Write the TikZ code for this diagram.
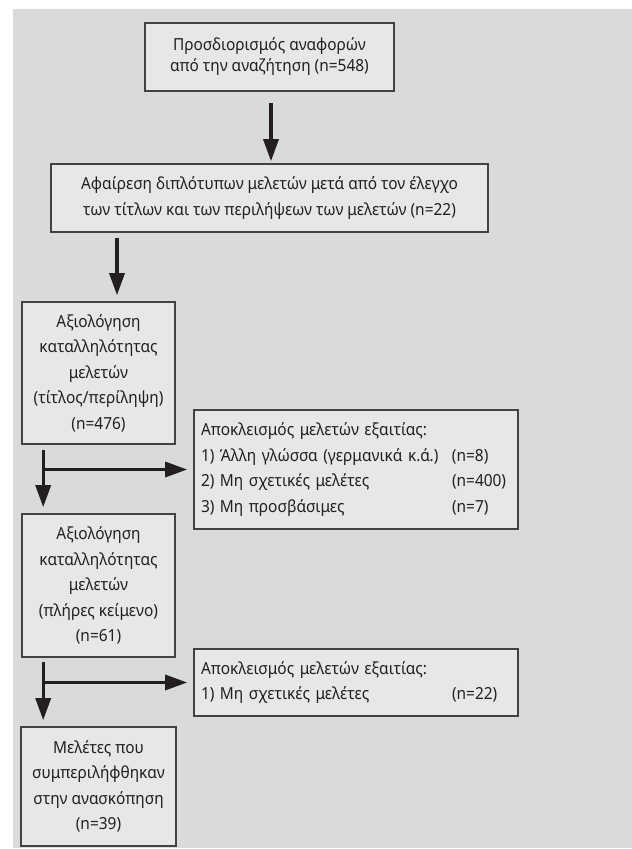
\documentclass[tikz,border=0pt]{standalone}
\usepackage{fontspec}
\setmainfont{Noto Sans}[FakeStretch=0.93]
\usetikzlibrary{arrows.meta,positioning,calc}
\definecolor{panelgray}{HTML}{D9DADC}
\definecolor{boxgray}{HTML}{E6E7E8}
\definecolor{ink}{HTML}{231F20}
\tikzset{
  stage/.style = { draw=ink!85, line width=1.6pt, fill=boxgray, align=center,
    inner sep=0pt, text=ink, font=\fontsize{16.6}{25.5}\selectfont },
  exclbox/.style = { stage, align=left, inner xsep=7pt, text width=310pt },
  flow/.style = { draw=ink, line width=3.3pt, -{Triangle[length=22pt,width=15pt]} }
}
\newcommand{\reason}[2]{\makebox[251pt][l]{#1}#2}

\begin{document}
\begin{tikzpicture}[x=1pt,y=-1pt]
    \useasboundingbox (0,0) rectangle (632,849);
    \fill[white] (0,0) rectangle (632,849);
    \fill[panelgray] (13,9) rectangle (632,848);
    % main column
    \node[stage, minimum width=249pt, minimum height=68pt,
      font=\fontsize{16.6}{21}\selectfont] (ident) at (269.5,57)
      {Προσδιορισμός αναφορών\\από την αναζήτηση (n=548)};
    \node[stage, minimum width=437pt, minimum height=68pt] (dupl) at (269.5,198)
      {Αφαίρεση διπλότυπων μελετών μετά από τον έλεγχο\\των τίτλων και των περιλήψεων των μελετών (n=22)};
    \node[stage, minimum width=153pt, minimum height=142pt] (screen) at (98.5,373)
      {Αξιολόγηση\\καταλληλότητας\\μελετών\\(τίτλος/περίληψη)\\(n=476)};
    \node[stage, minimum width=153pt, minimum height=143pt] (full) at (98.5,585.5)
      {Αξιολόγηση\\καταλληλότητας\\μελετών\\(πλήρες κείμενο)\\(n=61)};
    \node[stage, minimum width=155pt, minimum height=119pt] (incl) at (98.5,786.5)
      {Μελέτες που\\συμπεριλήφθηκαν\\στην ανασκόπηση\\(n=39)};
    % exclusions
    \node[exclbox, minimum height=119pt] (exclA) at (356,469.5)
      {Αποκλεισμός μελετών εξαιτίας:\\
       \reason{1) Άλλη γλώσσα (γερμανικά κ.ά.)}{(n=8)}\\
       \reason{2) Μη σχετικές μελέτες}{(n=400)}\\
       \reason{3) Μη προσβάσιμες}{(n=7)}};
    \node[exclbox, minimum height=67pt] (exclB) at (356,682.5)
      {Αποκλεισμός μελετών εξαιτίας:\\
       \reason{1) Μη σχετικές μελέτες}{(n=22)}};
    % arrows
    \draw[flow] ([xshift=1.5pt,yshift=-11pt]ident.south) -- ([xshift=1.5pt,yshift=2pt]dupl.north);
    \draw[flow] ([yshift=-5pt]dupl.south -| screen.north) ++(18.5,0) coordinate (d2)
      -- ([xshift=18.5pt,yshift=6pt]screen.north);
    \coordinate (splitA) at ([xshift=22pt]screen.south west);
    \draw[flow] ([yshift=-5pt]splitA) -- ([yshift=6pt]full.north west -| splitA);
    \draw[flow] (splitA |- exclA.west) -- ([xshift=-6pt]exclA.west);
    \coordinate (splitB) at ([xshift=22pt]full.south west);
    \draw[flow] ([yshift=-4pt]splitB) -- ([yshift=6pt]incl.north west -| splitB);
    \draw[flow] (splitB |- exclB.west) -- ([xshift=-6pt]exclB.west);
\end{tikzpicture}
\end{document}
